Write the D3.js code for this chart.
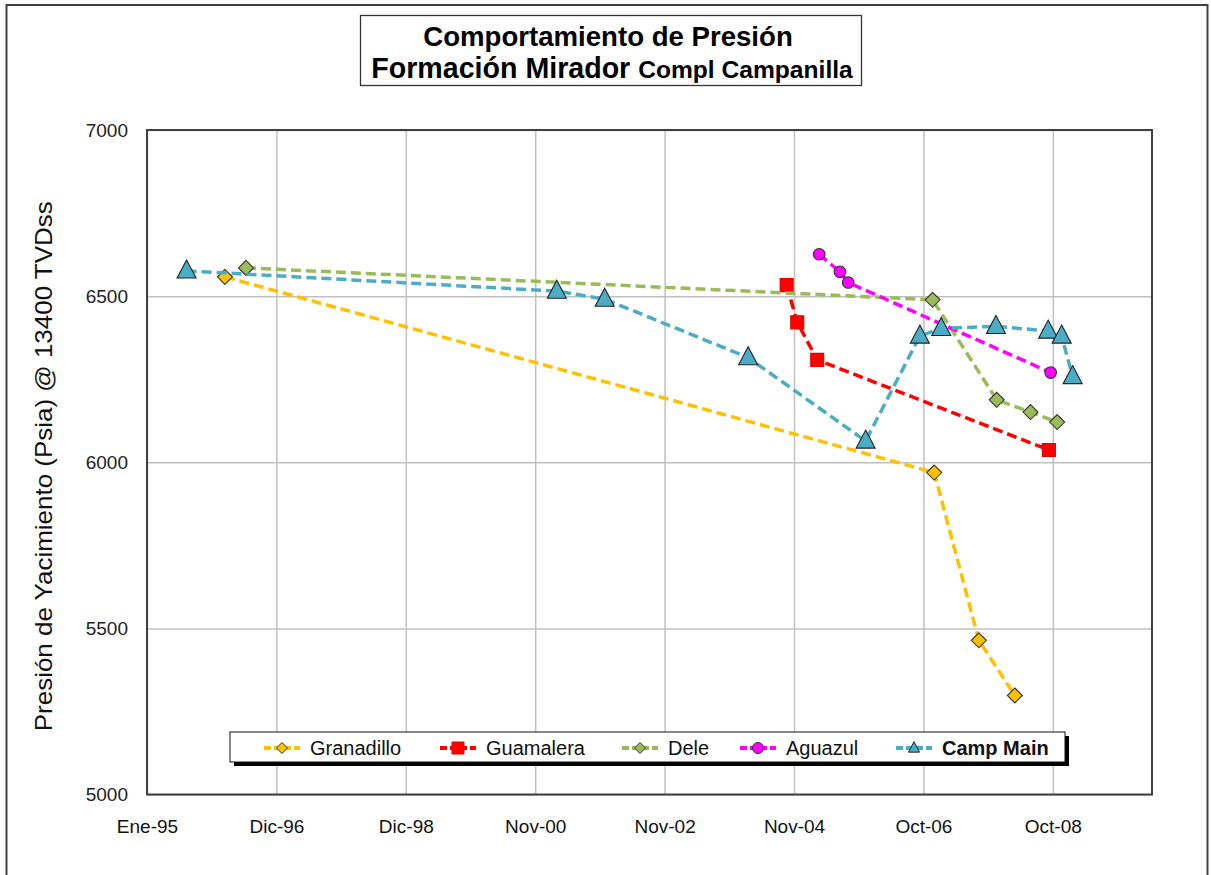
<!DOCTYPE html>
<html>
<head>
<meta charset="utf-8">
<script src="https://cdn.jsdelivr.net/npm/d3@7"></script>
<style>
  body { margin: 0; background: #fff; }
  svg { display: block; }
</style>
</head>
<body>
<svg id="chart" width="1211" height="875"></svg>
<script>
// Data
const seriesNames = ["Granadillo", "Guamalera", "Dele", "Aguazul", "Camp Main"];

const granadilloDates  = ["1996-03-09", "2006-12-23", "2007-08-28", "2008-03-15"];
const granadilloValues = [6558, 5969, 5464, 5298];

const guamaleraDates  = ["2004-09-24", "2004-11-22", "2005-03-13", "2008-09-20"];
const guamaleraValues = [6533, 6421, 6308, 6037];

const deleDates  = ["1996-07-04", "2006-12-14", "2007-12-05", "2008-06-10", "2008-11-05"];
const deleValues = [6585, 6489, 6188, 6151, 6121];

const aguazulDates  = ["2005-03-24", "2005-07-17", "2005-09-01", "2008-09-30"];
const aguazulValues = [6626, 6573, 6541, 6270];

const campMainDates  = ["1995-08-09", "2001-03-27", "2001-12-18", "2004-02-23", "2005-12-07",
                        "2006-10-04", "2007-01-31", "2007-12-01", "2008-09-16", "2008-11-30", "2009-01-30"];
const campMainValues = [6576, 6515, 6491, 6315, 6064, 6380, 6403, 6409, 6395, 6380, 6258];

const xTickLabels = ["Ene-95", "Dic-96", "Dic-98", "Nov-00", "Nov-02", "Nov-04", "Oct-06", "Oct-08"];
const xStart = "1995-01-01";
const xEnd = "2010-04-16";
const xTickStepDays = 719;
const yTicks = [5000, 5500, 6000, 6500, 7000];

// layout
const margin = {top: 130, left: 147, right: 59, bottom: 80.5};
const W = 1211, H = 875;
const plotW = W - margin.left - margin.right;
const plotH = H - margin.top - margin.bottom;

const parse = d3.timeParse("%Y-%m-%d");
const svg = d3.select("#chart");

// outer frame
svg.append("rect")
  .attr("x", 6.5).attr("y", 5).attr("width", 1201).attr("height", 880)
  .attr("fill", "white").attr("stroke", "#404040").attr("stroke-width", 2);

const x = d3.scaleTime()
  .domain([parse(xStart), parse(xEnd)])
  .range([0, plotW]);
const y = d3.scaleLinear()
  .domain([5000, 7000])
  .range([plotH, 0]);

const tickDates = xTickLabels.map((_, i) => d3.timeDay.offset(parse(xStart), i * xTickStepDays));

const g = svg.append("g").attr("transform", `translate(${margin.left},${margin.top})`);

// grid
g.append("g")
  .attr("transform", `translate(0,${plotH})`)
  .call(d3.axisBottom(x).tickValues(tickDates).tickSize(-plotH).tickFormat(""))
  .call(a => a.select(".domain").remove())
  .call(a => a.selectAll("line").attr("stroke", "#c0c0c0").attr("stroke-width", 1.5));
g.append("g")
  .call(d3.axisLeft(y).tickValues(yTicks).tickSize(-plotW).tickFormat(""))
  .call(a => a.select(".domain").remove())
  .call(a => a.selectAll("line").attr("stroke", "#c0c0c0").attr("stroke-width", 1.5));

// plot border
g.append("rect")
  .attr("width", plotW).attr("height", plotH)
  .attr("fill", "none").attr("stroke", "#404040").attr("stroke-width", 2);

// tick labels
g.append("g")
  .attr("transform", `translate(0,${plotH})`)
  .call(d3.axisBottom(x).tickValues(tickDates).tickSize(0).tickPadding(25)
    .tickFormat((d, i) => xTickLabels[i]))
  .call(a => a.select(".domain").remove())
  .call(a => a.selectAll("text")
    .attr("font-family", "'Liberation Sans', Arial, sans-serif")
    .attr("font-size", 19).attr("fill", "#111"));

g.append("g")
  .call(d3.axisLeft(y).tickValues(yTicks).tickSize(0).tickPadding(19).tickFormat(d3.format("d")))
  .call(a => a.select(".domain").remove())
  .call(a => a.selectAll("text")
    .attr("font-family", "'Liberation Sans', Arial, sans-serif")
    .attr("font-size", 19).attr("fill", "#222"));

// y axis title
svg.append("text")
  .attr("transform", `translate(52,${margin.top + plotH / 2 + 4}) rotate(-90)`)
  .attr("text-anchor", "middle")
  .attr("font-family", "'Liberation Sans', Arial, sans-serif")
  .attr("font-size", 24)
  .attr("textLength", 530)
  .attr("lengthAdjust", "spacingAndGlyphs")
  .attr("fill", "#111")
  .text("Presión de Yacimiento (Psia) @  13400 TVDss");

// title box
svg.append("rect")
  .attr("x", 360.5).attr("y", 15.5).attr("width", 501).attr("height", 70)
  .attr("fill", "white").attr("stroke", "#333").attr("stroke-width", 1.3);
const title = svg.append("text")
  .attr("text-anchor", "middle")
  .attr("font-family", "'Liberation Sans', Arial, sans-serif")
  .attr("font-weight", "bold").attr("fill", "#000");
title.append("tspan").attr("x", 608).attr("y", 46).attr("font-size", 27.6)
  .text("Comportamiento de Presión");
const t2 = title.append("tspan").attr("x", 612).attr("y", 78);
t2.append("tspan").attr("font-size", 28.6).text("Formación Mirador ");
t2.append("tspan").attr("font-size", 24.6).text("Compl Campanilla");

// series
const series = [
  {name: seriesNames[0], dates: granadilloDates, values: granadilloValues, color: "#ffc000", shape: "diamond", mstroke: "#333"},
  {name: seriesNames[1], dates: guamaleraDates, values: guamaleraValues, color: "#ff0000", shape: "square", mstroke: "#e00000"},
  {name: seriesNames[2], dates: deleDates, values: deleValues, color: "#9bbb59", shape: "diamond", mstroke: "#333"},
  {name: seriesNames[3], dates: aguazulDates, values: aguazulValues, color: "#ff00ff", shape: "circle", mstroke: "#333"},
  {name: seriesNames[4], dates: campMainDates, values: campMainValues, color: "#4bacc6", shape: "triangle", mstroke: "#222"}
];

const line = d3.line()
  .x(d => x(d.date)).y(d => y(d.value));

function markerPath(shape, s) {
  if (shape === "diamond") return `M0,${-s}L${s},0L0,${s}L${-s},0Z`;
  if (shape === "square") return `M${-s},${-s}H${s}V${s}H${-s}Z`;
  if (shape === "triangle") return `M0,${-s * 1.15}L${s},${s * 0.75}L${-s},${s * 0.75}Z`;
  return d3.symbol(d3.symbolCircle, Math.PI * s * s)();
}
const markerSize = {diamond: 7.5, square: 6.5, triangle: 9.5, circle: 5.8};

series.forEach(s => {
  const pts = s.dates.map((d, i) => ({date: parse(d), value: s.values[i]}));
  g.append("path")
    .attr("d", line(pts))
    .attr("fill", "none")
    .attr("stroke", s.color)
    .attr("stroke-width", 3.5)
    .attr("stroke-dasharray", "10,5");
  g.selectAll(null).data(pts).enter().append("path")
    .attr("transform", d => `translate(${x(d.date)},${y(d.value)})`)
    .attr("d", markerPath(s.shape, markerSize[s.shape]))
    .attr("fill", s.color)
    .attr("stroke", s.mstroke)
    .attr("stroke-width", 1.1);
});

// legend
const leg = svg.append("g").attr("transform", "translate(230,732)");
leg.append("rect").attr("x", 4).attr("y", 4).attr("width", 835).attr("height", 30).attr("fill", "#000");
leg.append("rect").attr("x", 0).attr("y", 0).attr("width", 835).attr("height", 30)
  .attr("fill", "white").attr("stroke", "#111").attr("stroke-width", 1);
const legX = [34, 210, 392, 510, 666];
series.forEach((s, i) => {
  const it = leg.append("g").attr("transform", `translate(${legX[i]},16)`);
  it.append("line").attr("x1", 0).attr("x2", 36).attr("stroke", s.color)
    .attr("stroke-width", 4).attr("stroke-dasharray", "7,3");
  it.append("path").attr("transform", "translate(18,0)")
    .attr("d", markerPath(s.shape, s.shape === "square" ? 6 : 5.5))
    .attr("fill", s.color).attr("stroke", s.mstroke).attr("stroke-width", 1);
  it.append("text").attr("x", 46).attr("y", 7)
    .attr("font-family", "'Liberation Sans', Arial, sans-serif")
    .attr("font-size", 20)
    .attr("font-weight", i === 4 ? "bold" : "normal")
    .attr("fill", "#111")
    .text(s.name);
});
</script>
</body>
</html>
